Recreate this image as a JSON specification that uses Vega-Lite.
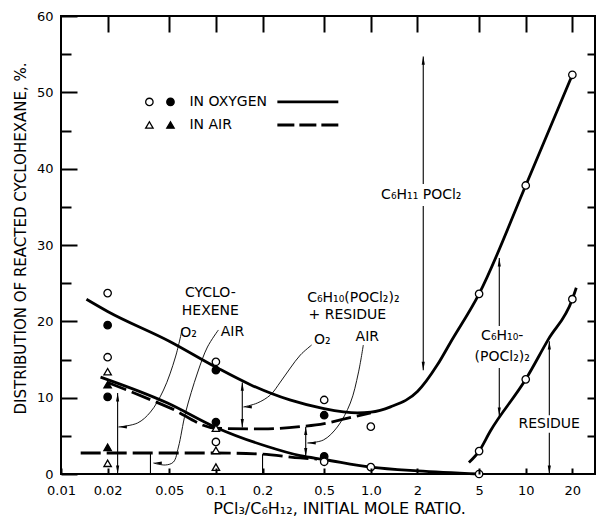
{
  "$schema": "https://vega.github.io/schema/vega-lite/v6.json",
  "width": 534,
  "height": 458,
  "autosize": {"type": "none"},
  "padding": {"left": 61, "top": 16, "right": 2, "bottom": 44},
  "background": "white",
  "config": {
    "view": {"stroke": "black", "strokeWidth": 2},
    "font": "DejaVu Sans",
    "axis": {"labelFont": "DejaVu Sans", "titleFont": "DejaVu Sans", "labelColor": "black", "titleColor": "black", "grid": false, "domain": false, "titleFontWeight": "normal", "labelFontSize": 13}
  },
  "datasets": {
    "solid": [
      {"curve": "upper", "x": 0.0146, "y": 22.9}, {"curve": "upper", "x": 0.02, "y": 21.3}, {"curve": "upper", "x": 0.05, "y": 17.4}, {"curve": "upper", "x": 0.1, "y": 14.0}, {"curve": "upper", "x": 0.167, "y": 11.7}, {"curve": "upper", "x": 0.3, "y": 9.7}, {"curve": "upper", "x": 0.49, "y": 8.6}, {"curve": "upper", "x": 0.82, "y": 8.0}, {"curve": "upper", "x": 1.0, "y": 8.1}, {"curve": "upper", "x": 1.34, "y": 8.8}, {"curve": "upper", "x": 2.0, "y": 10.8}, {"curve": "upper", "x": 2.69, "y": 14.3}, {"curve": "upper", "x": 3.26, "y": 17.2}, {"curve": "upper", "x": 5, "y": 23.6}, {"curve": "upper", "x": 10, "y": 37.8}, {"curve": "upper", "x": 20, "y": 52.3},
      {"curve": "middle", "x": 0.018, "y": 12.7}, {"curve": "middle", "x": 0.0487, "y": 9.3}, {"curve": "middle", "x": 0.1, "y": 6.1}, {"curve": "middle", "x": 0.215, "y": 3.6}, {"curve": "middle", "x": 0.35, "y": 2.4}, {"curve": "middle", "x": 0.5, "y": 1.9}, {"curve": "middle", "x": 1.0, "y": 0.9}, {"curve": "middle", "x": 2, "y": 0.4}, {"curve": "middle", "x": 5, "y": 0},
      {"curve": "right", "x": 4.3, "y": 1.5}, {"curve": "right", "x": 5, "y": 3.0}, {"curve": "right", "x": 5.9, "y": 5.6}, {"curve": "right", "x": 10, "y": 12.4}, {"curve": "right", "x": 13.96, "y": 17.6}, {"curve": "right", "x": 20, "y": 22.9}, {"curve": "right", "x": 21.2, "y": 24.4}
    ],
    "dashed": [
      {"curve": "airTotal", "x": 0.02, "y": 12.0}, {"curve": "airTotal", "x": 0.05, "y": 8.7}, {"curve": "airTotal", "x": 0.1, "y": 6.0}, {"curve": "airTotal", "x": 0.2, "y": 5.9}, {"curve": "airTotal", "x": 0.35, "y": 6.2}, {"curve": "airTotal", "x": 0.5, "y": 6.6}, {"curve": "airTotal", "x": 0.7, "y": 7.3}, {"curve": "airTotal", "x": 1.0, "y": 8.0},
      {"curve": "airRes", "x": 0.0134, "y": 2.75}, {"curve": "airRes", "x": 0.1, "y": 2.75}, {"curve": "airRes", "x": 0.2, "y": 2.6}, {"curve": "airRes", "x": 0.35, "y": 2.1}, {"curve": "airRes", "x": 0.45, "y": 1.95}
    ],
    "leaders": [
      {"id": "L1", "ord": 0, "x": 0.0608, "y": 19.13}, {"id": "L1", "ord": 1, "x": 0.0548, "y": 15.33}, {"id": "L1", "ord": 2, "x": 0.0459, "y": 11.0}, {"id": "L1", "ord": 3, "x": 0.0378, "y": 8.12}, {"id": "L1", "ord": 4, "x": 0.0312, "y": 6.68}, {"id": "L1", "ord": 5, "x": 0.0235, "y": 6.16},
      {"id": "L2", "ord": 0, "x": 0.1038, "y": 18.87}, {"id": "L2", "ord": 1, "x": 0.0882, "y": 16.64}, {"id": "L2", "ord": 2, "x": 0.076, "y": 13.23}, {"id": "L2", "ord": 3, "x": 0.0636, "y": 7.99}, {"id": "L2", "ord": 4, "x": 0.0573, "y": 3.54}, {"id": "L2", "ord": 5, "x": 0.0532, "y": 1.57}, {"id": "L2", "ord": 6, "x": 0.0472, "y": 1.18}, {"id": "L2", "ord": 7, "x": 0.0395, "y": 1.44},
      {"id": "L3", "ord": 0, "x": 0.415, "y": 16.9}, {"id": "L3", "ord": 1, "x": 0.3509, "y": 15.59}, {"id": "L3", "ord": 2, "x": 0.3024, "y": 13.89}, {"id": "L3", "ord": 3, "x": 0.2607, "y": 12.05}, {"id": "L3", "ord": 4, "x": 0.2247, "y": 10.35}, {"id": "L3", "ord": 5, "x": 0.1852, "y": 9.3}, {"id": "L3", "ord": 6, "x": 0.1505, "y": 8.78},
      {"id": "L4", "ord": 0, "x": 0.8944, "y": 16.9}, {"id": "L4", "ord": 1, "x": 0.8306, "y": 13.23}, {"id": "L4", "ord": 2, "x": 0.7375, "y": 9.3}, {"id": "L4", "ord": 3, "x": 0.608, "y": 6.16}, {"id": "L4", "ord": 4, "x": 0.4937, "y": 4.45}, {"id": "L4", "ord": 5, "x": 0.3893, "y": 4.06}
    ],
    "rules": [
      {"x": 0.0232, "y": 0, "y2": 10.6}, {"x": 0.148, "y": 6.1, "y2": 12.0}, {"x": 0.38, "y": 2.3, "y2": 6.2},
      {"x": 2.18, "y": 13.6, "y2": 35.1}, {"x": 2.18, "y": 38.0, "y2": 54.7},
      {"x": 6.75, "y": 7.6, "y2": 13.9}, {"x": 6.75, "y": 19.4, "y2": 28.3},
      {"x": 14.2, "y": 0, "y2": 5.4}, {"x": 14.2, "y": 7.7, "y2": 17.4},
      {"x": 0.0378, "y": 0, "y2": 2.75}, {"x": 0.2, "y": 0, "y2": 2.6}
    ],
    "heads": [
      {"sym": "up", "x": 0.0232, "y": 10.6}, {"sym": "up", "x": 0.148, "y": 12.0}, {"sym": "up", "x": 0.38, "y": 6.2}, {"sym": "up", "x": 2.18, "y": 54.7}, {"sym": "up", "x": 6.75, "y": 28.3}, {"sym": "up", "x": 14.2, "y": 17.4},
      {"sym": "down", "x": 0.0232, "y": 0}, {"sym": "down", "x": 0.148, "y": 6.1}, {"sym": "down", "x": 0.38, "y": 2.3}, {"sym": "down", "x": 2.18, "y": 13.6}, {"sym": "down", "x": 6.75, "y": 7.6}, {"sym": "down", "x": 14.2, "y": 0},
      {"sym": "left", "x": 0.0235, "y": 6.16}, {"sym": "left", "x": 0.0395, "y": 1.44}, {"sym": "left", "x": 0.1505, "y": 8.78}, {"sym": "left", "x": 0.3893, "y": 4.06}
    ],
    "points": [
      {"x": 0.02, "y": 23.7, "sym": "oc"}, {"x": 0.02, "y": 19.5, "sym": "fc"}, {"x": 0.02, "y": 15.3, "sym": "oc"}, {"x": 0.02, "y": 13.4, "sym": "ot"}, {"x": 0.02, "y": 11.7, "sym": "ft"}, {"x": 0.02, "y": 10.1, "sym": "fc"}, {"x": 0.02, "y": 3.5, "sym": "ft"}, {"x": 0.02, "y": 1.4, "sym": "ot"},
      {"x": 0.1, "y": 14.7, "sym": "oc"}, {"x": 0.1, "y": 13.6, "sym": "fc"}, {"x": 0.1, "y": 6.8, "sym": "fc"}, {"x": 0.1, "y": 6.0, "sym": "ot"}, {"x": 0.1, "y": 4.2, "sym": "oc"}, {"x": 0.1, "y": 3.1, "sym": "ot"}, {"x": 0.1, "y": 0.9, "sym": "ot"},
      {"x": 0.5, "y": 9.7, "sym": "oc"}, {"x": 0.5, "y": 7.7, "sym": "fc"}, {"x": 0.5, "y": 2.3, "sym": "fc"}, {"x": 0.5, "y": 1.6, "sym": "oc"},
      {"x": 1.0, "y": 6.2, "sym": "oc"}, {"x": 1.0, "y": 0.9, "sym": "oc"},
      {"x": 5, "y": 23.6, "sym": "oc"}, {"x": 5, "y": 3.0, "sym": "oc"}, {"x": 5, "y": 0, "sym": "oc"},
      {"x": 10, "y": 37.8, "sym": "oc"}, {"x": 10, "y": 12.4, "sym": "oc"},
      {"x": 20, "y": 52.3, "sym": "oc"}, {"x": 20, "y": 22.9, "sym": "oc"}
    ],
    "legendSym": [
      {"x": 0.0372, "y": 48.74, "sym": "oc"}, {"x": 0.0509, "y": 48.74, "sym": "fc"}, {"x": 0.0372, "y": 45.72, "sym": "ot"}, {"x": 0.0509, "y": 45.72, "sym": "ft"}
    ],
    "legendLines": [
      {"x": 0.2493, "x2": 0.6169, "y": 48.74, "style": "solid"}, {"x": 0.2493, "x2": 0.6169, "y": 45.72, "style": "dashed"}
    ],
    "labels": [
      {"x": 0.0921, "y": 23.71, "text": "CYCLO-"}, {"x": 0.0921, "y": 21.35, "text": "HEXENE"},
      {"x": 0.0665, "y": 18.47, "text": "O₂"}, {"x": 0.1278, "y": 18.6, "text": "AIR"},
      {"x": 0.7711, "y": 23.06, "text": "C₆H₁₀(POCl₂)₂"}, {"x": 0.7056, "y": 20.83, "text": "+ RESIDUE"},
      {"x": 0.4864, "y": 17.56, "text": "O₂"}, {"x": 0.9493, "y": 17.95, "text": "AIR"},
      {"x": 2.117, "y": 36.55, "text": "C₆H₁₁ POCl₂"},
      {"x": 7.05, "y": 18.08, "text": "C₆H₁₀-"}, {"x": 7.05, "y": 15.33, "text": "(POCl₂)₂"},
      {"x": 14.18, "y": 6.55, "text": "RESIDUE"}
    ],
    "legendText": [
      {"x": 0.0675, "y": 48.74, "text": "IN OXYGEN"}, {"x": 0.0675, "y": 45.72, "text": "IN AIR"}
    ]
  },
  "encoding": {
    "x": {"field": "x", "type": "quantitative", "scale": {"type": "log", "domain": [0.01, 28], "nice": false}, "axis": null},
    "y": {"field": "y", "type": "quantitative", "scale": {"domain": [0, 60], "nice": false, "zero": false}, "axis": null}
  },
  "layer": [
    {
      "data": {"name": "solid"},
      "mark": {"type": "line", "interpolate": "monotone", "strokeWidth": 2.8, "color": "black"},
      "encoding": {
        "x": {"field": "x", "type": "quantitative", "scale": {"type": "log", "domain": [0.01, 28], "nice": false},
          "axis": {"orient": "bottom", "zindex": 1, "values": [0.01, 0.02, 0.05, 0.1, 0.2, 0.5, 1, 2, 5, 10, 20], "ticks": true, "tickSize": -6, "tickColor": "black", "tickWidth": 2, "labelPadding": 16, "labelFlush": false, "labelExpr": "datum.value == 1 ? '1.0' : toString(datum.value)", "labelFontSize": 13, "labelOverlap": false, "title": "PCl₃/C₆H₁₂, INITIAL MOLE RATIO.", "titleFontSize": 16, "titleX": 278, "titleY": 39, "titleBaseline": "alphabetic", "titleAlign": "center"}},
        "y": {"field": "y", "type": "quantitative", "scale": {"domain": [0, 60], "nice": false, "zero": false},
          "axis": {"orient": "left", "zindex": 1, "values": [0, 10, 20, 30, 40, 50, 60], "ticks": true, "tickSize": -16, "tickColor": "black", "tickWidth": 2, "labelPadding": 24, "labelFlush": false, "labelFontSize": 13, "title": "DISTRIBUTION OF REACTED CYCLOHEXANE, %.", "titleFontSize": 15, "titleX": -36, "titleY": 222, "titleBaseline": "alphabetic", "titleAlign": "center"}},
        "detail": {"field": "curve"}
      }
    },
    {
      "data": {"name": "dashed"},
      "mark": {"type": "line", "interpolate": "monotone", "strokeWidth": 2.8, "strokeDash": [20, 6], "color": "black"},
      "encoding": {
        "x": {"field": "x", "type": "quantitative", "scale": {"type": "log", "domain": [0.01, 28], "nice": false},
          "axis": {"orient": "top", "zindex": 1, "values": [0.02, 0.05, 0.1, 0.2, 0.5, 1, 2, 5, 10, 20], "ticks": true, "tickSize": -16, "tickColor": "black", "tickWidth": 2, "labels": false, "title": null}},
        "y": {"field": "y", "type": "quantitative", "scale": {"domain": [0, 60], "nice": false, "zero": false},
          "axis": {"orient": "right", "zindex": 1, "values": [5, 10, 15, 20, 25, 30, 35, 40, 45, 50, 55], "ticks": true, "tickSize": -8, "tickColor": "black", "tickWidth": 2, "labels": false, "title": null}},
        "detail": {"field": "curve"}
      }
    },
    {
      "data": {"name": "leaders"},
      "mark": {"type": "line", "interpolate": "catmull-rom", "strokeWidth": 0.9, "color": "black"},
      "encoding": {
        "y": {"field": "y", "type": "quantitative", "scale": {"domain": [0, 60], "nice": false, "zero": false},
          "axis": {"orient": "left", "zindex": 1, "values": [5, 15, 25, 35, 45, 55], "ticks": true, "tickSize": -10, "tickColor": "black", "tickWidth": 2, "labels": false, "title": null}},
        "detail": {"field": "id"},
        "order": {"field": "ord", "type": "quantitative"}
      }
    },
    {
      "data": {"name": "rules"},
      "mark": {"type": "rule", "strokeWidth": 1.1, "color": "black"},
      "encoding": {"y2": {"field": "y2"}}
    },
    {
      "data": {"name": "legendLines"},
      "mark": {"type": "rule", "strokeWidth": 2.8, "color": "black"},
      "encoding": {
        "x2": {"field": "x2"},
        "strokeDash": {"field": "style", "type": "nominal", "scale": {"domain": ["solid", "dashed"], "range": [[1, 0], [17, 5]]}, "legend": null}
      }
    },
    {
      "data": {"name": "heads"},
      "mark": {"type": "point", "filled": true, "opacity": 1, "size": 49, "color": "black", "strokeWidth": 0},
      "encoding": {
        "shape": {"field": "sym", "type": "nominal", "scale": {"domain": ["oc", "fc", "ot", "ft", "up", "down", "left"], "range": ["circle", "circle", "triangle-up", "triangle-up", "M-0.45,2.4L0,0L0.45,2.4Z", "M-0.45,-2.4L0,0L0.45,-2.4Z", "M2.4,-0.45L0,0L2.4,0.45Z"]}, "legend": null}
      }
    },
    {
      "data": {"name": "points"},
      "mark": {"type": "point", "filled": true, "opacity": 1, "size": 55, "stroke": "black", "strokeWidth": 1.3},
      "encoding": {
        "shape": {"field": "sym", "type": "nominal", "scale": {"domain": ["oc", "fc", "ot", "ft", "up", "down", "left"], "range": ["circle", "circle", "triangle-up", "triangle-up", "M-0.45,2.4L0,0L0.45,2.4Z", "M-0.45,-2.4L0,0L0.45,-2.4Z", "M2.4,-0.45L0,0L2.4,0.45Z"]}, "legend": null},
        "fill": {"field": "sym", "type": "nominal", "scale": {"domain": ["oc", "fc", "ot", "ft"], "range": ["white", "black", "white", "black"]}, "legend": null}
      }
    },
    {
      "data": {"name": "legendSym"},
      "mark": {"type": "point", "filled": true, "opacity": 1, "size": 55, "stroke": "black", "strokeWidth": 1.3},
      "encoding": {
        "shape": {"field": "sym", "type": "nominal", "scale": {"domain": ["oc", "fc", "ot", "ft", "up", "down", "left"], "range": ["circle", "circle", "triangle-up", "triangle-up", "M-0.45,2.4L0,0L0.45,2.4Z", "M-0.45,-2.4L0,0L0.45,-2.4Z", "M2.4,-0.45L0,0L2.4,0.45Z"]}, "legend": null},
        "fill": {"field": "sym", "type": "nominal", "scale": {"domain": ["oc", "fc", "ot", "ft"], "range": ["white", "black", "white", "black"]}, "legend": null}
      }
    },
    {
      "data": {"name": "labels"},
      "mark": {"type": "text", "font": "DejaVu Sans", "fontSize": 14, "align": "center", "baseline": "middle", "color": "black"},
      "encoding": {"text": {"field": "text"}}
    },
    {
      "data": {"name": "legendText"},
      "mark": {"type": "text", "font": "DejaVu Sans", "fontSize": 14, "align": "left", "baseline": "middle", "color": "black"},
      "encoding": {"text": {"field": "text"}}
    }
  ],
  "resolve": {"axis": {"x": "independent", "y": "independent"}}
}
